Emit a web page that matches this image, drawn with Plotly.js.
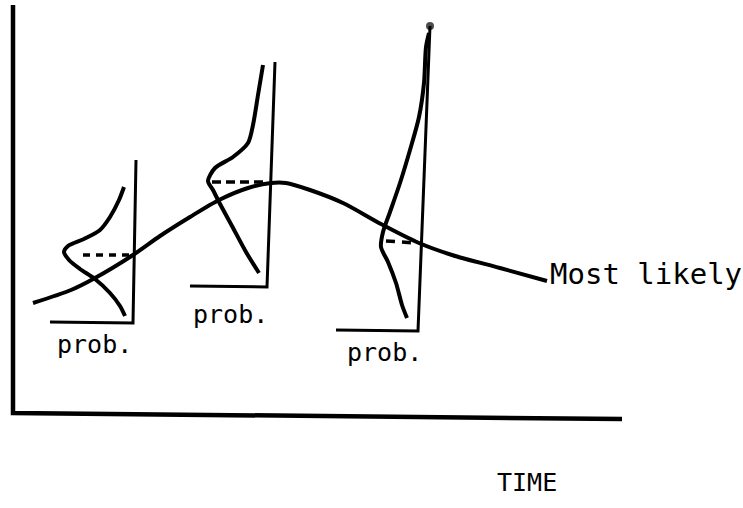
<!DOCTYPE html>
<html>
<head>
<meta charset="utf-8">
<script src="https://cdn.plot.ly/plotly-3.0.1.min.js"></script>
<style>html,body{margin:0;padding:0;background:#fff;}#chart{width:743px;height:508px;}</style>
</head>
<body>
<div id="chart"></div>
<script>
const axisT = [13, 13, 622];
const axisV = [5, 413, 419];

const mostLikelyT = [33, 71, 95, 133, 160, 190, 219, 248, 271, 286, 310, 343, 381, 419, 452, 500, 547];
const mostLikelyV = [303, 290, 278, 255, 236, 217, 200, 188, 183, 183, 190, 203, 224, 243, 255, 268, 281];

// distribution 1
const dist1T = [124, 119, 110, 100, 84, 68, 64, 69, 80, 95, 110, 120, 125];
const dist1V = [187, 200, 217, 230, 239, 246, 252, 260, 269, 279, 293, 306, 316];
const stem1T = [136, 133, 50];
const stem1V = [160, 323, 322];
const mode1T = [83, 130];
const mode1V = [255, 255];

// distribution 2
const dist2T = [263, 258, 253, 248, 233, 215, 208, 213, 219, 232, 246, 259];
const dist2V = [65, 95, 125, 143, 157, 168, 181, 190, 202, 226, 252, 273];
const stem2T = [275, 267, 190];
const stem2V = [62, 287, 286];
const mode2T = [212, 266];
const mode2V = [182, 182];

// distribution 3
const dist3T = [429, 426, 424, 419, 410, 400, 390, 383, 381, 388, 396, 402, 407];
const dist3V = [33, 47, 83, 117, 150, 183, 212, 232, 247, 262, 283, 305, 318];
const stem3T = [430, 418, 336];
const stem3V = [26, 331, 330];
const mode3T = [386, 415];
const mode3V = [241, 243];

const labelTexts = ["prob.", "prob.", "prob.", "Most likely", "TIME"];
const labelT = [94, 230, 384, 548, 527];
const labelV = [344, 314, 352, 274, 482];

const ink = "#000";
function line(x, y, w, extra) {
  return Object.assign({x: x, y: y, type: "scatter", mode: "lines",
    line: {color: ink, width: w}, hoverinfo: "skip", showlegend: false}, extra || {});
}
const smooth = {line: {color: ink, width: 4, shape: "spline", smoothing: 0.8}};

const traces = [
  line(axisT, axisV, 4.5),
  line(mostLikelyT, mostLikelyV, 4, smooth),
  line(dist1T, dist1V, 4, smooth),
  line(stem1T, stem1V, 3),
  line(mode1T, mode1V, 3.5, {line: {color: ink, width: 3.5, dash: "7px,6px"}}),
  line(dist2T, dist2V, 4, smooth),
  line(stem2T, stem2V, 3),
  line(mode2T, mode2V, 3.5, {line: {color: ink, width: 3.5, dash: "9px,5px"}}),
  line(dist3T, dist3V, 4, smooth),
  line(stem3T, stem3V, 3, {mode: "lines+markers",
    marker: {color: ink, size: [8, 0, 0], line: {width: 0}}}),
  line(mode3T, mode3V, 3.5, {line: {color: ink, width: 3.5, dash: "9px,7px"}})
];

const sizes = [25, 25, 25, 29, 25];
const anns = labelTexts.map((t, i) => ({
  x: labelT[i], y: labelV[i], xref: "x", yref: "y", text: t, showarrow: false,
  xanchor: t === "Most likely" ? "left" : "center", yanchor: "middle",
  font: {family: "DejaVu Sans Mono", size: sizes[i], color: ink}
}));

const layout = {
  width: 743, height: 508,
  margin: {l: 0, r: 0, t: 0, b: 0},
  paper_bgcolor: "#fff", plot_bgcolor: "#fff",
  xaxis: {range: [0, 743], visible: false, fixedrange: true},
  yaxis: {range: [508, 0], visible: false, fixedrange: true},
  annotations: anns,
  showlegend: false
};

Plotly.newPlot("chart", traces, layout, {staticPlot: true, displayModeBar: false});
</script>
</body>
</html>
